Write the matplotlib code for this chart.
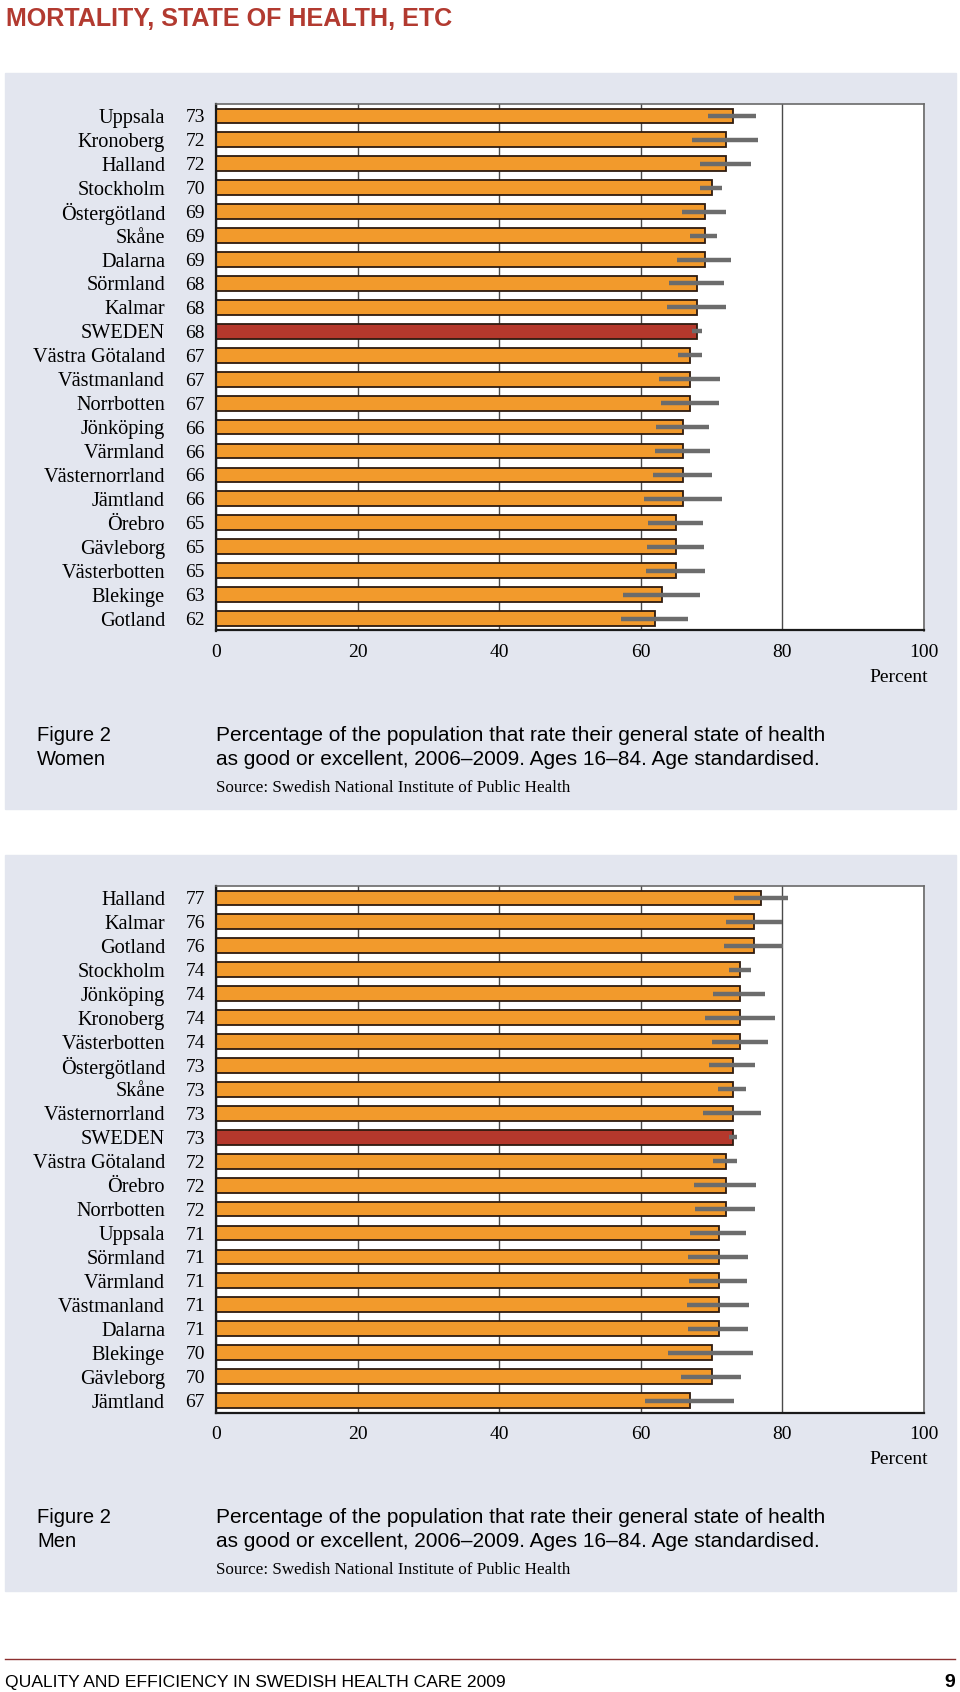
import matplotlib.pyplot as plt
import matplotlib.transforms as mtransforms
from matplotlib.patches import Rectangle
from matplotlib.lines import Line2D

# ---- data ----
women_regions = ['Uppsala', 'Kronoberg', 'Halland', 'Stockholm', 'Östergötland', 'Skåne',
                 'Dalarna', 'Sörmland', 'Kalmar', 'SWEDEN', 'Västra Götaland', 'Västmanland',
                 'Norrbotten', 'Jönköping', 'Värmland', 'Västernorrland', 'Jämtland', 'Örebro',
                 'Gävleborg', 'Västerbotten', 'Blekinge', 'Gotland']
women_values = [73, 72, 72, 70, 69, 69, 69, 68, 68, 68, 67, 67, 67, 66, 66, 66, 66, 65, 65, 65, 63, 62]
women_low = [69.5, 67.2, 68.3, 68.4, 65.8, 67.0, 65.1, 64.0, 63.7, 67.3, 65.2, 62.6,
             62.9, 62.2, 62.0, 61.7, 60.4, 61.0, 60.9, 60.7, 57.5, 57.2]
women_high = [76.3, 76.6, 75.5, 71.4, 72.0, 70.8, 72.7, 71.8, 72.1, 68.6, 68.6, 71.2,
              71.0, 69.6, 69.8, 70.1, 71.4, 68.8, 68.9, 69.1, 68.3, 66.6]

men_regions = ['Halland', 'Kalmar', 'Gotland', 'Stockholm', 'Jönköping', 'Kronoberg',
               'Västerbotten', 'Östergötland', 'Skåne', 'Västernorrland', 'SWEDEN',
               'Västra Götaland', 'Örebro', 'Norrbotten', 'Uppsala', 'Sörmland', 'Värmland',
               'Västmanland', 'Dalarna', 'Blekinge', 'Gävleborg', 'Jämtland']
men_values = [77, 76, 76, 74, 74, 74, 74, 73, 73, 73, 73, 72, 72, 72, 71, 71, 71, 71, 71, 70, 70, 67]
men_low = [73.1, 72.0, 71.8, 72.4, 70.2, 69.0, 70.0, 69.6, 70.9, 68.8, 72.4,
           70.2, 67.5, 67.6, 67.0, 66.7, 66.8, 66.5, 66.7, 63.9, 65.7, 60.6]
men_high = [80.8, 79.9, 80.1, 75.5, 77.6, 78.9, 77.9, 76.2, 74.9, 77.0, 73.6,
            73.6, 76.3, 76.2, 74.8, 75.1, 75.0, 75.3, 75.1, 75.9, 74.1, 73.2]

x_ticks = [0, 20, 40, 60, 80, 100]

caption_line1 = 'Percentage of the population that rate their general state of health'
caption_line2 = 'as good or excellent, 2006\u20132009. Ages 16\u201384. Age standardised.'
source_text = 'Source: Swedish National Institute of Public Health'

W, H = 960, 1692
ORANGE = '#f29a2c'
RED = '#b5382c'
EDGE = '#2e1b10'
PANEL = '#e3e6ef'
SERIF = 'Liberation Serif'
SANS = 'Liberation Sans'

fig = plt.figure(figsize=(W / 100, H / 100), dpi=100)


def fx(px):
    return px / W


def fy(py):
    return 1 - py / H


def draw_panel(top, regions, values, low, high, who):
    # light grey background box, kept behind the axes
    fig.patches.append(Rectangle((fx(5), fy(top + 736)), fx(951), 736 / H,
                                 transform=fig.transFigure, color=PANEL, zorder=-5))
    ax_top = top + 31
    ax = fig.add_axes([fx(216), fy(ax_top + 526.5), fx(708), 526.5 / H])
    ax.set_facecolor('white')
    ypos = list(range(len(regions)))
    colors = [RED if r == 'SWEDEN' else ORANGE for r in regions]
    ax.barh(ypos, values, height=0.62, color=colors, edgecolor=EDGE, linewidth=1.3, zorder=2)
    ax.hlines(ypos, low, high, color='#6c6c6c', linewidth=3.2, zorder=3)
    ax.set_xlim(0, 100)
    ax.set_ylim(len(regions) - 0.5, -0.5)
    ax.set_xticks(x_ticks)
    ax.set_xticklabels([str(t) for t in x_ticks], fontfamily=SERIF, fontsize=14)
    ax.set_yticks([])
    ax.tick_params(axis='x', length=0, pad=10)
    ax.grid(axis='x', color='#4a4a4a', linewidth=1, zorder=1)
    ax.set_axisbelow(True)
    for side in ['left', 'bottom']:
        ax.spines[side].set_color('#1a1a1a')
        ax.spines[side].set_linewidth(1.6)
    for side in ['top', 'right']:
        ax.spines[side].set_color('#6a6a6a')
        ax.spines[side].set_linewidth(1.2)

    trans = mtransforms.blended_transform_factory(ax.transAxes, ax.transData)
    for y, name, v in zip(ypos, regions, values):
        ax.text(-51 / 708, y, name, transform=trans, ha='right', va='center_baseline',
                fontfamily=SERIF, fontsize=14.6)
        ax.text(-11 / 708, y, str(v), transform=trans, ha='right', va='center_baseline',
                fontfamily=SERIF, fontsize=14)
    ax.text(1.006, -0.089, 'Percent', transform=ax.transAxes, ha='right', va='center',
            fontfamily=SERIF, fontsize=14)

    # caption below the chart
    fig.text(fx(37), fy(top + 662), 'Figure 2', ha='left', va='center',
             fontfamily=SANS, fontsize=14.5)
    fig.text(fx(37), fy(top + 686), who, ha='left', va='center',
             fontfamily=SANS, fontsize=14.5)
    fig.text(fx(216), fy(top + 662), caption_line1, ha='left', va='center',
             fontfamily=SANS, fontsize=15.05)
    fig.text(fx(216), fy(top + 686), caption_line2, ha='left', va='center',
             fontfamily=SANS, fontsize=15.05)
    fig.text(fx(216), fy(top + 715), source_text, ha='left', va='center',
             fontfamily=SERIF, fontsize=12.3)


fig.text(fx(6), fy(19), 'MORTALITY, STATE OF HEALTH, ETC', ha='left', va='center',
         fontfamily=SANS, fontweight='bold', fontsize=18.1, color='#b23a30')

draw_panel(73, women_regions, women_values, women_low, women_high, 'Women')
draw_panel(855, men_regions, men_values, men_low, men_high, 'Men')

# footer
fig.add_artist(Line2D([fx(5), fx(955)], [fy(1659), fy(1659)], transform=fig.transFigure,
                      color='#8c2f2f', linewidth=1))
fig.text(fx(5), fy(1682), 'QUALITY AND EFFICIENCY IN SWEDISH HEALTH CARE 2009', ha='left',
         va='center', fontfamily=SANS, fontsize=12.6)
fig.text(fx(955), fy(1682), '9', ha='right', va='center', fontfamily=SANS,
         fontweight='bold', fontsize=14)

fig.savefig('out.png', dpi=100, facecolor='white')
